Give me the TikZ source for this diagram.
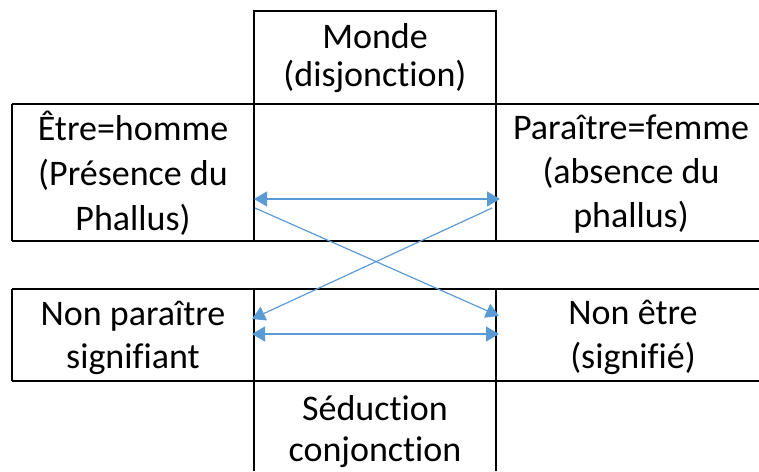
\documentclass[tikz,border=0pt]{standalone}
\usepackage{fontspec}
\setmainfont{Carlito}[Ligatures=NoCommon]
\usetikzlibrary{arrows.meta}
\definecolor{bleu}{HTML}{5B9BD5}
\begin{document}
\begin{tikzpicture}[x=1pt,y=-1pt,
		cell/.style={align=center,anchor=base,font=\fontsize{36}{44}\selectfont},
		trait/.style={line width=2pt},
		fleche/.style={bleu,line width=1.2pt,>={Triangle[length=13pt,width=15pt]}}]
		\useasboundingbox (0,0) rectangle (759,471);
		% grille
		\draw[trait] (254,241) -- (254,11) -- (496,11) -- (496,241) (254,471) -- (254,289) (496,471) -- (496,289) (12,104) -- (12,241) (12,289) -- (12,381);
		\foreach \y in {104,241,289,381} \draw[trait] (12,\y) -- (759,\y);
		% cases (ancre sur la derniere ligne)
		\node[cell,font=\fontsize{36}{38}\selectfont] (monde) at (375,86) {Monde\\(disjonction)};
		\node[cell,font=\fontsize{36}{45}\selectfont] (etre) at (133,230) {Être=homme\\(Présence du\\Phallus)};
		\node[cell] (paraitre) at (631,227) {Paraître=femme\\(absence du\\phallus)};
		\node[cell,font=\fontsize{36}{43}\selectfont] (nonparaitre) at (133,368) {Non paraître\\signifiant};
		\node[cell] (nonetre) at (633,368) {Non être\\(signifié)};
		\node[cell,font=\fontsize{36}{41}\selectfont] (seduction) at (375,461) {Séduction\\conjonction};
		% fleches
		\path (254,199) coordinate (etreA) (500,199) coordinate (paraitreA) (255,208) coordinate (etreB) (492,208) coordinate (paraitreB)
			(252,319) coordinate (nonparaitreA) (499,316) coordinate (nonetreA) (252,334) coordinate (nonparaitreB) (499,334) coordinate (nonetreB);
		\draw[fleche,<->] (etreA) -- (paraitreA);
		\draw[fleche,->] (etreB) -- (nonetreA);
		\draw[fleche,->] (paraitreB) -- (nonparaitreA);
		\draw[fleche,<->] (nonparaitreB) -- (nonetreB);
	\end{tikzpicture}
\end{document}
